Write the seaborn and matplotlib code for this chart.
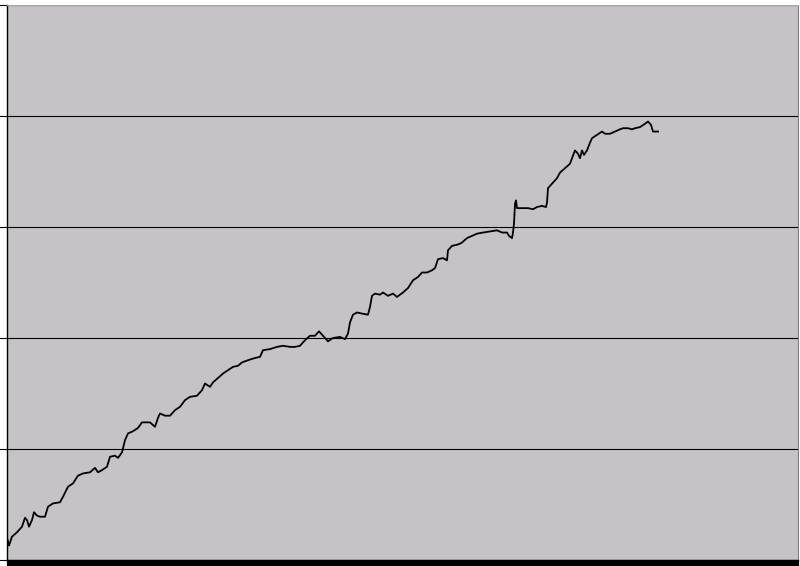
import pandas as pd
import matplotlib.pyplot as plt
import seaborn as sns
from matplotlib.ticker import MultipleLocator

# values (x = period index, y = cumulative value)
period = [0, 2, 5, 10, 15, 18, 20, 22, 25, 27, 30, 33, 38, 41, 46, 53, 56, 61, 66, 71,
          76, 83, 88, 91, 95, 100, 103, 108, 111, 115, 118, 121, 126, 131, 135, 140, 143, 148, 151, 153,
          158, 163, 168, 173, 178, 183, 190, 195, 198, 203, 206, 211, 216, 221, 226, 231, 235, 241, 248, 253,
          256, 263, 270, 276, 283, 288, 293, 298, 303, 308, 312, 316, 321, 326, 333, 338, 341, 343, 346, 350,
          355, 361, 363, 365, 368, 373, 376, 381, 386, 390, 396, 401, 406, 411, 415, 420, 425, 428, 431, 436,
          440, 441, 445, 450, 453, 455, 460, 465, 470, 476, 483, 490, 495, 500, 502, 505, 506, 507, 508, 509,
          510, 515, 521, 526, 530, 535, 539, 540, 541, 545, 550, 553, 558, 563, 565, 568, 571, 573, 575, 577,
          580, 583, 585, 590, 595, 598, 603, 608, 613, 616, 621, 625, 628, 633, 638, 641, 644, 646, 651]
value = [20, 13, 21, 25, 30, 38, 36, 30, 36, 43, 40, 39, 39, 48, 51, 52, 57, 66, 69, 76,
         78, 79, 83, 79, 81, 84, 93, 94, 92, 97, 108, 114, 116, 119, 124, 124, 124, 120, 128, 132,
         130, 130, 135, 138, 144, 147, 148, 153, 159, 156, 160, 164, 168, 171, 174, 175, 178, 180, 182, 183,
         189, 190, 192, 193, 192, 192, 193, 198, 202, 202, 206, 202, 197, 200, 201, 199, 204, 214, 221, 223,
         222, 221, 228, 238, 240, 239, 241, 238, 240, 237, 241, 245, 252, 255, 259, 259, 261, 263, 271, 272,
         270, 279, 283, 284, 285, 286, 290, 292, 294, 295, 296, 297, 295, 295, 292, 290, 295, 303, 321, 324,
         317, 317, 317, 316, 318, 319, 318, 322, 335, 339, 344, 349, 353, 357, 362, 369, 366, 362, 369, 365,
         369, 376, 380, 383, 386, 384, 384, 386, 388, 389, 389, 388, 389, 390, 393, 395, 392, 386, 386]
y_ticks = [0, 100, 200, 300, 400, 500]

df = pd.DataFrame({'period': period, 'value': value})

fig = plt.figure(figsize=(8, 5.66), dpi=100)
fig.patch.set_facecolor('white')
ax = fig.add_axes([7 / 800, 6 / 566, 791 / 800, 555 / 566])
ax.set_facecolor('#C6C3C6')

sns.lineplot(data=df, x='period', y='value', color='black', linewidth=1.3, ax=ax)

ax.set_xlim(0, 791)
ax.set_ylim(0, 500)
ax.set_yticks(y_ticks)
ax.yaxis.grid(True, color='black', linewidth=0.8)
ax.set_axisbelow(True)

# category axis: a dense run of tick marks that reads as a solid black bar
ax.xaxis.set_major_locator(MultipleLocator(1))
ax.tick_params(axis='x', direction='out', length=6, width=0.9, color='black',
               labelbottom=False)
ax.tick_params(axis='y', direction='out', length=6, width=0.8, color='black',
               labelleft=False)

ax.spines['left'].set_color('black')
ax.spines['left'].set_linewidth(1.0)
ax.spines['bottom'].set_color('black')
ax.spines['bottom'].set_linewidth(1.0)
ax.spines['right'].set_color('#808080')
ax.spines['right'].set_linewidth(0.8)
ax.spines['top'].set_color('#A8A8A8')
ax.spines['top'].set_linewidth(0.8)

ax.set_xlabel('')
ax.set_ylabel('')

fig.savefig('out.png', dpi=100)
